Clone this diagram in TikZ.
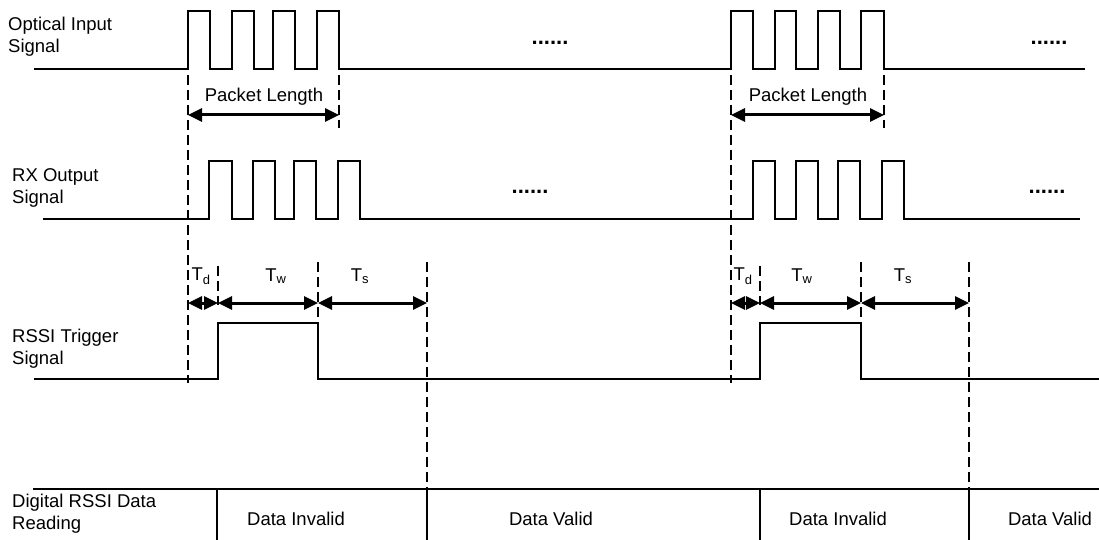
\documentclass[tikz,border=0pt]{standalone}
\usepackage{fontspec}
\setmainfont{Liberation Sans}
\usetikzlibrary{arrows.meta}
\begin{document}
\begin{tikzpicture}[x=1pt,y=-1pt,
  sig/.style={line width=2pt},
  guide/.style={line width=1.5pt, dash pattern=on 10pt off 5pt},
  solidline/.style={line width=2pt},
  dim/.style={line width=3pt, {Triangle[length=14pt,width=13pt]}-{Triangle[length=14pt,width=13pt]}},
  lbl/.style={font=\fontsize{18.5}{22}\selectfont, align=left, anchor=west, inner sep=0pt},
  txt/.style={font=\fontsize{18.5}{22}\selectfont, inner sep=0pt},
  dotsstyle/.style={font=\fontsize{22}{22}\selectfont\bfseries, inner sep=0pt}]
\useasboundingbox (0,0) rectangle (1099,540);

% row labels
\node[lbl] (lopt) at (8,37) {Optical Input\\Signal};
\node[lbl] (lrx) at (12,188) {RX Output\\Signal};
\node[lbl] (lrssi) at (12,349) {RSSI Trigger\\Signal};
\node[lbl] (ldig) at (12,514) {Digital RSSI Data\\Reading};

% optical input signal
\draw[sig] (34,69) -- (188,69) -- (188,11) -- (210,11) -- (210,69) -- (232,69) -- (232,11) -- (254,11) -- (254,69)
  -- (273,69) -- (273,11) -- (295,11) -- (295,69) -- (317,69) -- (317,11) -- (339,11) -- (339,69)
  -- (731,69) -- (731,11) -- (753,11) -- (753,69) -- (775,69) -- (775,11) -- (796,11) -- (796,69)
  -- (818,69) -- (818,11) -- (840,11) -- (840,69) -- (861,69) -- (861,11) -- (884,11) -- (884,69) -- (1085,69);
\node[dotsstyle] (dopt1) at (550,43) {......};
\node[dotsstyle] (dopt2) at (1049,43) {......};

% RX output signal
\draw[sig] (43,219) -- (209,219) -- (209,161) -- (232,161) -- (232,219) -- (253,219) -- (253,161) -- (275,161) -- (275,219)
  -- (294,219) -- (294,161) -- (316,161) -- (316,219) -- (338,219) -- (338,161) -- (360,161) -- (360,219)
  -- (753,219) -- (753,161) -- (775,161) -- (775,219) -- (796,219) -- (796,161) -- (818,161) -- (818,219)
  -- (838,219) -- (838,161) -- (860,161) -- (860,219) -- (882,219) -- (882,161) -- (904,161) -- (904,219) -- (1080,219);
\node[dotsstyle] (drx1) at (530,192) {......};
\node[dotsstyle] (drx2) at (1047,192) {......};

% RSSI trigger signal
\draw[sig] (34,379) -- (218,379) -- (218,323) -- (318,323) -- (318,379) -- (760,379) -- (760,323) -- (861,323) -- (861,379) -- (1099,379);

% guide lines
\draw[guide] (188,75) -- (188,383);
\draw[guide] (339,75) -- (339,128);
\draw[guide] (731,75) -- (731,383);
\draw[guide] (884,75) -- (884,128);
\draw[guide] (218,266) -- (218,305);
\draw[guide] (318,262) -- (318,323);
\draw[guide] (427,262) -- (427,489);
\draw[guide] (760,266) -- (760,305);
\draw[guide] (861,262) -- (861,323);
\draw[guide] (969,262) -- (969,489);

% packet length
\coordinate (pa1) at (188,115); \coordinate (pb1) at (339,115);
\coordinate (pa2) at (731,115); \coordinate (pb2) at (884,115);
\draw[dim] (pa1) -- (pb1);
\draw[dim] (pa2) -- (pb2);
\node[txt] (pl1) at (264,97) {Packet Length};
\node[txt] (pl2) at (808,97) {Packet Length};

% timing arrows
\coordinate (t1a) at (188,303); \coordinate (t1b) at (218,303); \coordinate (t1c) at (318,303); \coordinate (t1d) at (427,303);
\coordinate (t2a) at (731,303); \coordinate (t2b) at (760,303); \coordinate (t2c) at (861,303); \coordinate (t2d) at (969,303);
\draw[dim] (t1a) -- (t1b);
\draw[dim] (t1b) -- (t1c);
\draw[dim] (t1c) -- (t1d);
\draw[dim] (t2a) -- (t2b);
\draw[dim] (t2b) -- (t2c);
\draw[dim] (t2c) -- (t2d);
\node[txt] (td1) at (201,276) {T\textsubscript{d}};
\node[txt] (tw1) at (276,276) {T\textsubscript{w}};
\node[txt] (ts1) at (360,276) {T\textsubscript{s}};
\node[txt] (td2) at (743,276) {T\textsubscript{d}};
\node[txt] (tw2) at (802,276) {T\textsubscript{w}};
\node[txt] (ts2) at (903,276) {T\textsubscript{s}};

% digital RSSI data row
\draw[solidline] (33,489) -- (1099,489);
\draw[solidline] (217,489) -- (217,540);
\draw[solidline] (427,489) -- (427,540);
\draw[solidline] (760,489) -- (760,540);
\draw[solidline] (969,489) -- (969,540);
\node[txt] (di1) at (296,519) {Data Invalid};
\node[txt] (dv1) at (551,519) {Data Valid};
\node[txt] (di2) at (838,519) {Data Invalid};
\node[txt] (dv2) at (1050,519) {Data Valid};
\end{tikzpicture}
\end{document}
